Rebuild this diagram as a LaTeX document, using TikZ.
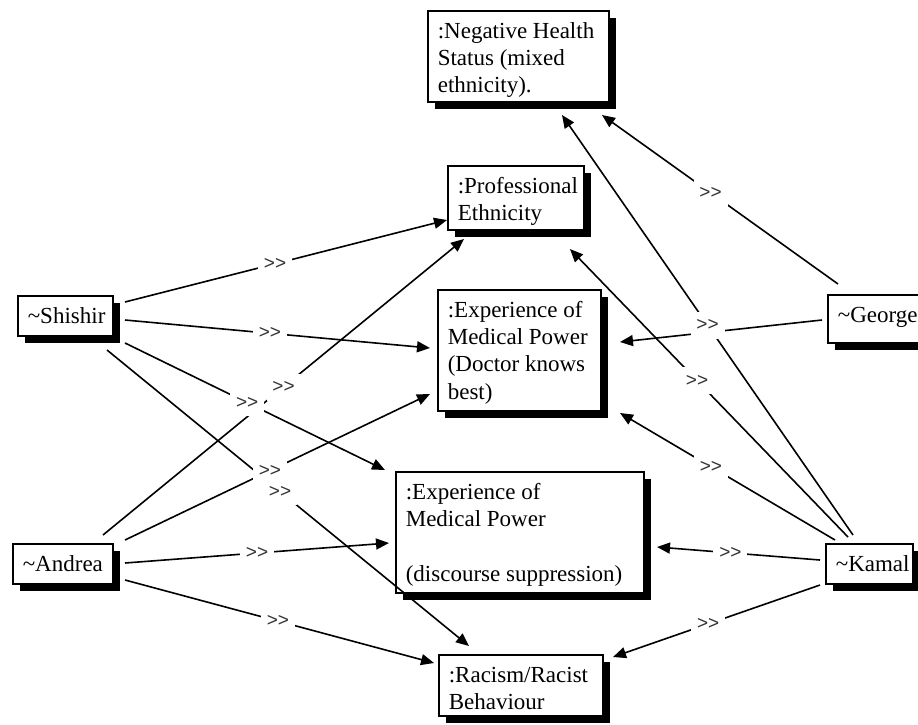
\documentclass[tikz,border=0pt]{standalone}
\usepackage{fontspec}
\setmainfont{Liberation Serif}
\newfontfamily\labelfont{Liberation Sans}
\usetikzlibrary{arrows.meta,calc,shadows}

% fixed-size text box: width, height, text (top-aligned, left inset)
\newcommand\boxtext[3]{%
  \begin{minipage}[c][#2][t]{#1}%
    \raggedright\setlength\leftskip{10pt}\setlength\parindent{0pt}%
    \rule{0pt}{27.5pt}#3%
  \end{minipage}}

\begin{document}
\begin{tikzpicture}[x=1pt,y=-1pt,
  concept/.style={draw, line width=1.6pt, fill=white, inner sep=0pt,
    anchor=north west, font=\fontsize{23}{27.3}\selectfont,
    general shadow={fill=black, shadow xshift=7pt, shadow yshift=-7pt}},
  link/.style={line width=1.6pt, -{Triangle[length=13pt,width=11pt]}},
  lbl/.style={fill=white, inner sep=0pt, minimum width=34pt,
    minimum height=27pt, font=\labelfont\fontsize{19}{19}\selectfont,
    text=black!80}]
\useasboundingbox (0,0) rectangle (918,724);

% concepts
\node[concept] (neg) at (427,10)
  {\boxtext{181pt}{91pt}{:Negative Health\\Status (mixed\\ethnicity).}};
\node[concept] (pe) at (447,165)
  {\boxtext{136pt}{64pt}{:Professional\\Ethnicity}};
\node[concept] (doc) at (437,289)
  {\boxtext{163pt}{121pt}{:Experience of\\Medical Power\\(Doctor knows\\best)}};
\node[concept] (dis) at (395,471)
  {\boxtext{248pt}{121pt}{:Experience of\\Medical Power\\~\\(discourse suppression)}};
\node[concept] (rac) at (438,654)
  {\boxtext{164pt}{61pt}{:Racism/Racist\\Behaviour}};

% people
\node[concept] (sh) at (17,295) {\boxtext{95pt}{40pt}{\textasciitilde Shishir}};
\node[concept] (an) at (12,543) {\boxtext{100pt}{40pt}{\textasciitilde Andrea}};
\node[concept] (ge) at (827,294) {\boxtext{100pt}{48pt}{\textasciitilde George}};
\node[concept] (ka) at (825,543) {\boxtext{87pt}{40pt}{\textasciitilde Kamal}};

% links from Shishir
\draw[link] ($(sh.north west)+(108,7)$) -- coordinate[pos=.466] (l1) ($(pe.north west)+(0,55)$);
\draw[link] ($(sh.north west)+(108,25)$) -- coordinate[pos=.475] (l2) ($(doc.north west)+(-7,59)$);
\draw[link] ($(sh.north west)+(108,48)$) -- coordinate[pos=.47] (l3) ($(dis.north west)+(-10,-1)$);
\draw[link] ($(sh.north west)+(90,55)$) -- coordinate[pos=.478] (l4) ($(rac.north west)+(31,-8)$);

% links from Andrea
\draw[link] ($(an.north west)+(91,-8)$) -- coordinate[pos=.5] (l5) ($(pe.north west)+(17,74)$);
\draw[link] ($(an.north west)+(113,-3)$) -- coordinate[pos=.475] (l6) ($(doc.north west)+(-7,105)$);
\draw[link] ($(an.north west)+(113,20)$) -- coordinate[pos=.5] (l7) ($(dis.north west)+(-6,72)$);
\draw[link] ($(an.north west)+(113,37)$) -- coordinate[pos=.495] (l8) ($(rac.north west)+(-4,9)$);

% links from George
\draw[link] ($(ge.north west)+(11,-10)$) -- coordinate[pos=.54] (l9) ($(neg.north west)+(175,105)$);
\draw[link] ($(ge.north west)+(-5,26)$) -- ($(doc.north west)+(183,53)$);

% links from Kamal
\draw[link] ($(ka.north west)+(28,-8)$) -- coordinate[pos=.50] (l11) ($(neg.north west)+(135,105)$);
\draw[link] ($(ka.north west)+(23,-6)$) -- coordinate[pos=.543] (l12) ($(pe.north west)+(123,84)$);
\draw[link] ($(ka.north west)+(10,-3)$) -- coordinate[pos=.577] (l13) ($(doc.north west)+(183,124)$);
\draw[link] ($(ka.north west)+(-5,17)$) -- coordinate[pos=.55] (l14) ($(dis.north west)+(262,76)$);
\draw[link] ($(ka.north west)+(-5,42)$) -- coordinate[pos=.54] (l15) ($(rac.north west)+(175,3)$);

% link labels, on top of every line
\foreach \c in {l1,l2,l3,l4,l5,l6,l7,l8,l9,l11,l12,l13,l14,l15}
  \node[lbl] at (\c) {>{}>};
\end{tikzpicture}
\end{document}
